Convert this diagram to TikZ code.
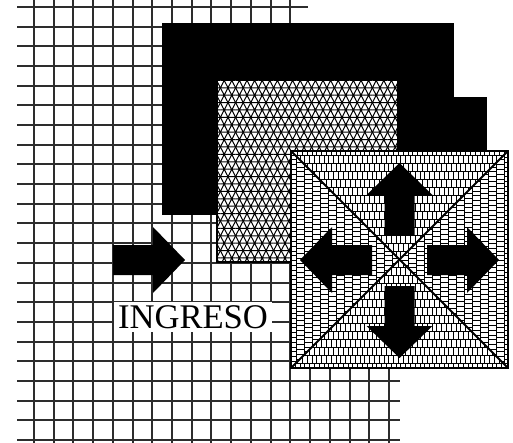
\documentclass[tikz,border=0pt]{standalone}
\usepackage{fontspec}
\setmainfont{Liberation Serif}
\usepackage{tikz}
\usetikzlibrary{patterns}
\definecolor{gridcolor}{RGB}{45,45,45}
\pgfdeclarepatternformonly{triangles}{\pgfqpoint{-0.5pt}{-0.5pt}}{\pgfqpoint{4.3pt}{7.9pt}}{\pgfqpoint{3.8pt}{7.4pt}}{%
  \pgfsetlinewidth{0.5pt}
  \pgfpathmoveto{\pgfqpoint{0pt}{0pt}}\pgfpathlineto{\pgfqpoint{3.8pt}{0pt}}
  \pgfpathmoveto{\pgfqpoint{0pt}{3.7pt}}\pgfpathlineto{\pgfqpoint{3.8pt}{3.7pt}}
  \pgfpathmoveto{\pgfqpoint{0pt}{0pt}}\pgfpathlineto{\pgfqpoint{3.8pt}{7.4pt}}
  \pgfpathmoveto{\pgfqpoint{3.8pt}{0pt}}\pgfpathlineto{\pgfqpoint{0pt}{7.4pt}}
  \pgfusepath{stroke}}
\pgfdeclarepatternformonly{vbricks}{\pgfqpoint{-0.5pt}{-0.5pt}}{\pgfqpoint{5.3pt}{8.5pt}}{\pgfqpoint{4.8pt}{8pt}}{%
  \pgfsetlinewidth{0.45pt}
  \pgfpathmoveto{\pgfqpoint{0pt}{0pt}}\pgfpathlineto{\pgfqpoint{4.8pt}{0pt}}
  \pgfpathmoveto{\pgfqpoint{0pt}{4pt}}\pgfpathlineto{\pgfqpoint{4.8pt}{4pt}}
  \pgfpathmoveto{\pgfqpoint{0pt}{0pt}}\pgfpathlineto{\pgfqpoint{0pt}{4pt}}
  \pgfpathmoveto{\pgfqpoint{2.4pt}{0pt}}\pgfpathlineto{\pgfqpoint{2.4pt}{4pt}}
  \pgfpathmoveto{\pgfqpoint{1.2pt}{4pt}}\pgfpathlineto{\pgfqpoint{1.2pt}{8pt}}
  \pgfpathmoveto{\pgfqpoint{3.6pt}{4pt}}\pgfpathlineto{\pgfqpoint{3.6pt}{8pt}}
  \pgfusepath{stroke}}
\pgfdeclarepatternformonly{hbricks}{\pgfqpoint{-0.5pt}{-0.5pt}}{\pgfqpoint{8.5pt}{5.3pt}}{\pgfqpoint{8pt}{4.8pt}}{%
  \pgfsetlinewidth{0.45pt}
  \pgfpathmoveto{\pgfqpoint{0pt}{0pt}}\pgfpathlineto{\pgfqpoint{0pt}{4.8pt}}
  \pgfpathmoveto{\pgfqpoint{4pt}{0pt}}\pgfpathlineto{\pgfqpoint{4pt}{4.8pt}}
  \pgfpathmoveto{\pgfqpoint{0pt}{0pt}}\pgfpathlineto{\pgfqpoint{4pt}{0pt}}
  \pgfpathmoveto{\pgfqpoint{0pt}{2.4pt}}\pgfpathlineto{\pgfqpoint{4pt}{2.4pt}}
  \pgfpathmoveto{\pgfqpoint{4pt}{1.2pt}}\pgfpathlineto{\pgfqpoint{8pt}{1.2pt}}
  \pgfpathmoveto{\pgfqpoint{4pt}{3.6pt}}\pgfpathlineto{\pgfqpoint{8pt}{3.6pt}}
  \pgfusepath{stroke}}
\newcommand{\blockarrow}[2]{%
  \fill[black, shift={#2}, rotate=#1] (0,0) -- (-32,33) -- (-32,15) -- (-72,15)
    -- (-72,-15) -- (-32,-15) -- (-32,-33) -- cycle;
}
\tikzset{gridline/.style={gridcolor, line width=1pt}}
\begin{document}
\begin{tikzpicture}[x=0.5pt, y=-0.5pt, font=\fontsize{17.3}{20}\selectfont]
        \useasboundingbox (0,0) rectangle (513,443);
        % background grid, snapped to whole pixels
        \foreach \i [evaluate=\i as \gx using {round(34+19.72*\i)}] in {0,...,13}
          \draw[gridline] (\gx,0) -- (\gx,443);
        \foreach \i [evaluate=\i as \gx using {round(34+19.72*\i)}] in {14,...,18}
          \draw[gridline] (\gx,160) -- (\gx,443);
        \draw[gridline] (17,7) -- (308,7);
        \foreach \j [evaluate=\j as \gy using {round(7+19.68*\j)}] in {1,...,22}
          \draw[gridline] (17,\gy) -- (400,\gy);
        % stacked sheets
        \fill[black] (400,97) rectangle (487,200);
        \fill[black] (162,23) rectangle (454,215);
        \fill[white] (217,79) rectangle (398,262);
        \fill[pattern=triangles] (217,79) rectangle (398,262);
        \draw[line width=0.8pt] (217,79) rectangle (398,262);
        \fill[white] (291,151) rectangle (508,368);
        \fill[pattern=vbricks] (291,151) -- (508,151) -- (399.5,259.5) -- cycle;
        \fill[pattern=vbricks] (291,368) -- (508,368) -- (399.5,259.5) -- cycle;
        \fill[pattern=hbricks] (291,151) -- (291,368) -- (399.5,259.5) -- cycle;
        \fill[pattern=hbricks] (508,151) -- (508,368) -- (399.5,259.5) -- cycle;
        \draw[line width=1pt] (291,151) -- (508,368) (508,151) -- (291,368);
        \draw[line width=1.3pt] (291,151) rectangle (508,368);
        % arrows
        \blockarrow{0}{(185,260)}
        \blockarrow{90}{(399.5,163)}
        \blockarrow{270}{(399.5,358)}
        \blockarrow{180}{(300,260)}
        \blockarrow{0}{(499,260)}
        \node[fill=white, inner sep=2pt, text height=11.3pt, text depth=0pt] (ingreso) at (193,317) {INGRESO};
      \end{tikzpicture}
\end{document}
